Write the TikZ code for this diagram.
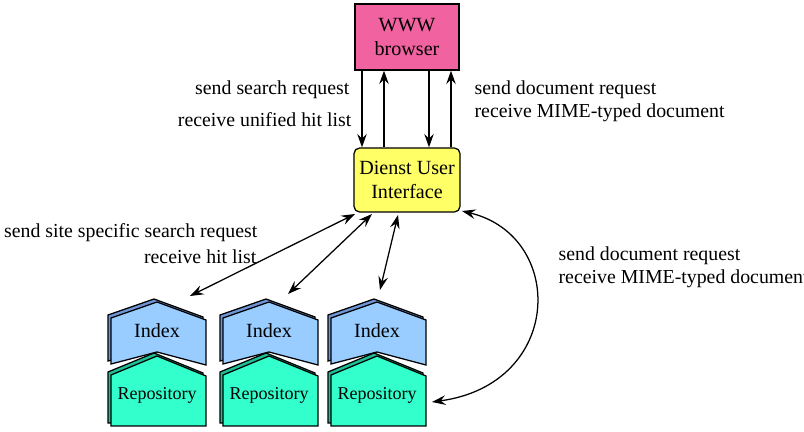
\documentclass[tikz,border=0pt]{standalone}
\usepackage{fontspec}
\setmainfont{Liberation Serif}
\usetikzlibrary{arrows.meta}
\definecolor{wwwpink}{RGB}{240,98,160}
\definecolor{uiyellow}{RGB}{255,255,102}
\definecolor{idxblue}{RGB}{153,204,255}
\definecolor{idxdark}{RGB}{110,150,215}
\definecolor{repgreen}{RGB}{51,255,204}
\definecolor{repdark}{RGB}{30,190,150}
\begin{document}
\begin{tikzpicture}[x=0.025cm,y=-0.025cm,line width=0.9pt,
	>={Stealth[length=3.4mm,width=2.4mm,inset=1.2mm]},
	lbl/.style={font=\fontsize{14.1}{17}\selectfont,inner sep=0pt},
	boxtext/.style={font=\fontsize{14.3}{17}\selectfont,align=center},
	reptext/.style={font=\fontsize{12.8}{15}\selectfont}]
				\useasboundingbox (0,0) rectangle (804,432)
				;
				\node[draw,fill=wwwpink,boxtext,minimum width=2.6cm,minimum height=1.65cm] (www) at (407,37) {WWW\\browser}
				;
				\node[draw,fill=uiyellow,boxtext,rounded corners=4pt,minimum width=2.65cm,minimum height=1.6cm] (ui) at (407,180) {Dienst User\\Interface}
				;
				\path
				(362,0) coordinate (a1)
				(384,0) coordinate (a2)
				(429,0) coordinate (a3)
				(451,0) coordinate (a4)
				;
				\draw[->] (www.south -| a1)--(ui.north -| a1)
				;
				\draw[->] (ui.north -| a2)--(www.south -| a2)
				;
				\draw[->] (www.south -| a3)--(ui.north -| a3)
				;
				\draw[->] (ui.north -| a4)--(www.south -| a4)
				;
				\node[lbl,anchor=east] (ssr) at (350,90) {send search request}
				;
				\node[lbl,anchor=east] (ruh) at (352,120) {receive unified hit list}
				;
				\node[lbl,anchor=west] (sdr) at (474,90) {send document request}
				;
				\node[lbl,anchor=west] (rmd) at (474,113) {receive MIME-typed document}
				;
				\node[lbl,anchor=east] (sss) at (258,233) {send site specific search request}
				;
				\node[lbl,anchor=east] (rhl) at (257,257) {receive hit list}
				;
				\node[lbl,anchor=west] (sdr2) at (558,256) {send document request}
				;
				\node[lbl,anchor=west] (rmd2) at (558,279) {receive MIME-typed document}
				;
				\foreach \L/\n in {108/1, 220/2, 328/3} {
				\draw[fill=idxdark,shift={(-3,-3)}] (\L+3,318)--(\L+49,302)--(\L+98,320)--(\L+98,365)--(\L+49,352)--(\L+3,364)--cycle;
				\draw[fill=idxblue] (\L+3,318)--(\L+49,302)--(\L+98,320)--(\L+98,365)--(\L+49,352)--(\L+3,364)--cycle;
				\draw[fill=repdark,shift={(-3,-3)}] (\L+3,375)--(\L+49,356)--(\L+98,376)--(\L+98,426)--(\L+3,426)--cycle;
				\draw[fill=repgreen] (\L+3,375)--(\L+49,356)--(\L+98,376)--(\L+98,426)--(\L+3,426)--cycle;
				\node[boxtext] (idx\n) at (\L+49,331) {Index};
				\node[reptext] (rep\n) at (\L+49,395) {Repository};
				}
				;
				\path
				(355,214) coordinate (u1)
				(372,214) coordinate (u2)
				(398,215) coordinate (u3)
				(190,296) coordinate (t1)
				(288,294) coordinate (t2)
				(380,290) coordinate (t3)
				(462,211) coordinate (u4)
				(432,402) coordinate (t4)
				;
				\foreach \n in {1,2,3} \draw[<->] (u\n)--(t\n)
				;
				\draw[<->] (u4) .. controls (566,236) and (564,384) .. (t4)
				;
\end{tikzpicture}
\end{document}
